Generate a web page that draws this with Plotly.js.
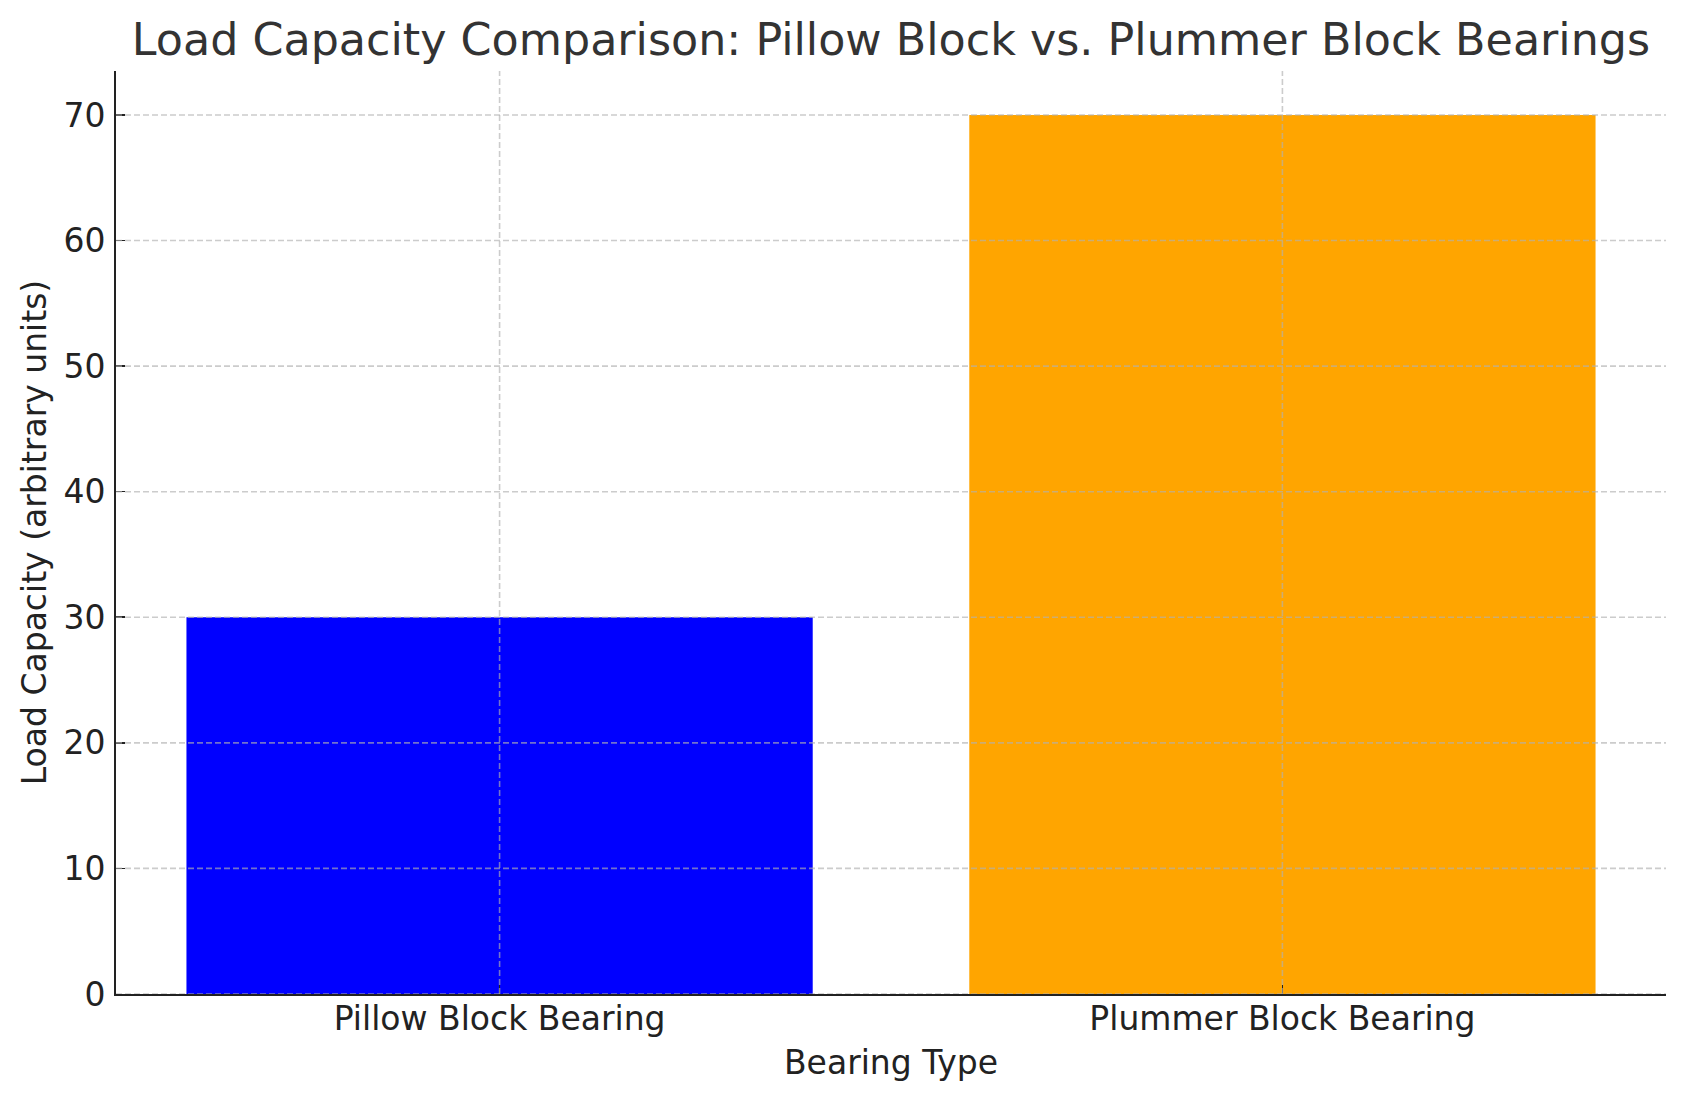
<!DOCTYPE html>
<html>
<head>
<meta charset="utf-8">
<script src="https://cdn.plot.ly/plotly-3.0.1.min.js"></script>
<style>
  html, body { margin: 0; padding: 0; background: #ffffff; }
  #chart { width: 1686px; height: 1101px; }
</style>
</head>
<body>
<div id="chart"></div>
<script>
const categories = ["Pillow Block Bearing", "Plummer Block Bearing"];
const loadCapacity = [30, 70];
const barColors = ["#0000ff", "#ffa500"];
const yTickValues = [0, 10, 20, 30, 40, 50, 60, 70];

const FONT = "DejaVu Sans, sans-serif";
const gridStyle = { color: "rgba(176,176,176,0.65)", width: 1.6, dash: "6px,3px" };

const shapes = [];
yTickValues.forEach(v => {
  shapes.push({ type: "line", layer: "above", xref: "paper", x0: 0, x1: 1, yref: "y", y0: v, y1: v, line: gridStyle });
});
categories.forEach(c => {
  shapes.push({ type: "line", layer: "above", xref: "x", x0: c, x1: c, yref: "paper", y0: 0, y1: 1, line: gridStyle });
});

const data = [{
  type: "bar",
  x: categories,
  y: loadCapacity,
  marker: { color: barColors, line: { width: 0 } },
  width: 0.8,
  hoverinfo: "x+y"
}];

const layout = {
  width: 1686,
  height: 1101,
  paper_bgcolor: "#ffffff",
  plot_bgcolor: "#ffffff",
  margin: { l: 116, r: 20, t: 71, b: 107, pad: 0 },
  font: { family: FONT, size: 33, color: "#222222" },
  showlegend: false,
  title: {
    text: "Load Capacity Comparison: Pillow Block vs. Plummer Block Bearings",
    font: { family: FONT, size: 44.4, color: "#333333" },
    x: 0.5, xref: "paper", xanchor: "center",
    y: 1 - 39 / 1101, yref: "container", yanchor: "middle"
  },
  xaxis: {
    type: "category",
    range: [-0.49, 1.49],
    showgrid: false,
    zeroline: false,
    showline: true, linecolor: "#222222", linewidth: 2,
    ticks: "inside", ticklen: 9, tickwidth: 1.6, tickcolor: "#222222",
    tickfont: { family: FONT, size: 33, color: "#222222" },
    ticklabelstandoff: -6,
    title: { text: "Bearing Type", font: { family: FONT, size: 33, color: "#222222" }, standoff: 14 },
    automargin: false
  },
  yaxis: {
    range: [0, 73.5],
    tickvals: yTickValues,
    ticktext: yTickValues.map(String),
    showgrid: false,
    zeroline: false,
    showline: true, linecolor: "#222222", linewidth: 2,
    ticks: "inside", ticklen: 9, tickwidth: 1.6, tickcolor: "#222222",
    tickfont: { family: FONT, size: 33, color: "#222222" },
    ticklabelstandoff: 2,
    title: { text: "Load Capacity (arbitrary units)", font: { family: FONT, size: 33, color: "#222222" }, standoff: 7 },
    automargin: false
  },
  shapes: shapes
};

Plotly.newPlot("chart", data, layout, { displayModeBar: false, staticPlot: true });
</script>
</body>
</html>
